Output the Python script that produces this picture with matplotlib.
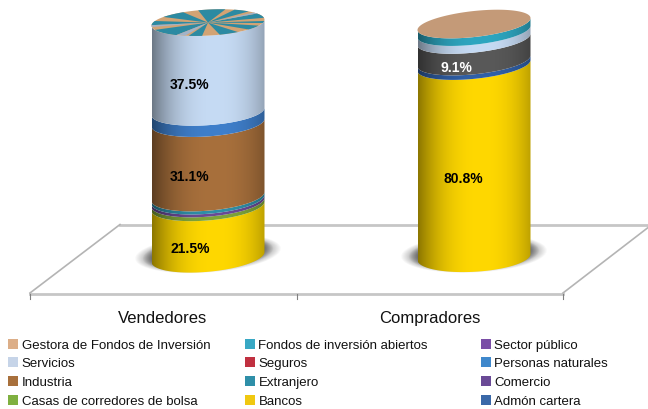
import numpy as np
import matplotlib
matplotlib.use('Agg')
import matplotlib.pyplot as plt
from matplotlib.colors import to_rgb
from matplotlib.patches import Polygon, Rectangle

plt.rcParams['font.family'] = ['Liberation Sans', 'DejaVu Sans']

categories = ['Vendedores', 'Compradores']

# bottom to top
vend_names = ['Bancos', 'Casas', 'Comercio', 'Extranjero', 'Industria', 'Personas', 'Servicios']
vend_values = [21.5, 1.6, 1.2, 1.3, 31.1, 4.7, 37.5]
comp_names = ['Bancos', 'Admon', 'Otros', 'Servicios', 'Fondos']
comp_values = [80.8, 1.9, 9.1, 3.3, 3.2]

colors = {
    'Bancos': '#ffd800', 'Casas': '#7fa63a', 'Comercio': '#6a4a96',
    'Extranjero': '#2f8fa8', 'Industria': '#a8703c', 'Personas': '#3f7fcb',
    'Servicios': '#c6dbf4', 'Admon': '#3060a8', 'Otros': '#595959',
    'Fondos': '#2ea6c0', 'Gestora': '#c49a78',
}

vend_labels = {'Servicios': '37.5%', 'Industria': '31.1%', 'Bancos': '21.5%'}
comp_labels = {'Otros': '9.1%', 'Bancos': '80.8%'}

legend_labels = [
    ['Gestora de Fondos de Inversión', 'Servicios', 'Industria', 'Casas de corredores de bolsa'],
    ['Fondos de inversión abiertos', 'Seguros', 'Extranjero', 'Bancos'],
    ['Sector público', 'Personas naturales', 'Comercio', 'Admón cartera'],
]
legend_colors = [
    ['#dcae88', '#c6d4e8', '#a8703c', '#7fb040'],
    ['#38a8c4', '#c03040', '#2f8fa8', '#f0c810'],
    ['#7a4ea6', '#3f88cc', '#6a4a96', '#3a68a8'],
]

# blades of the top face where the two last series overlap, degrees
pinwheel = [(8, 30), (44, 62), (72, 100), (116, 142), (160, 178), (200, 236),
            (250, 264), (282, 302), (316, 334), (345, 354)]
pinwheel_grey = [(178, 186), (236, 246), (30, 36)]

PX = 2.37       # pixels per percent point
SPAN = 266.0    # pixels between the two cylinders
A = 56.5 / SPAN
B_BOTTOM = 14.8 / PX
B_TOP = 13.0 / PX


def shade(color, n=120):
    u = np.linspace(0, 1, n)
    edge = np.clip(np.abs(u - 0.56) / 0.56, 0, 1)
    f = 1 - 0.45 * edge ** 2.4
    rgb = np.array(to_rgb(color))
    return (f[None, :, None] * rgb[None, None, :])


def ellipse_y(y0, tilt, t):
    # perspective: the tilt and the opening change along the height
    k = (tilt[0] + (tilt[1] - tilt[0]) * y0 / 100.0) / PX
    b = B_BOTTOM + (B_TOP - B_BOTTOM) * y0 / 100.0
    return y0 + k * np.cos(t) + b * np.sin(t)


def rim(cx, y0, tilt, n=60):
    t = np.linspace(np.pi, 2 * np.pi, n)
    return cx + A * np.cos(t), ellipse_y(y0, tilt, t)


def draw_cylinder(ax, cx, tilt, names, values, labels, label_colors, label_dx):
    bottoms = np.concatenate([[0], np.cumsum(values)])

    # soft shadow on the floor
    t = np.linspace(0, 2 * np.pi, 100)
    k = tilt[0] / PX
    for grow, alpha in zip(np.linspace(1.29, 1.0, 18), [0.025] * 8 + [0.06] * 10):
        ax.add_patch(Polygon(np.c_[cx + A * grow * np.cos(t),
                                   1.5 + k * np.cos(t) + B_BOTTOM * grow * np.sin(t)],
                             fc='black', ec='none', alpha=alpha, zorder=1))

    for name, v, y0 in zip(names, values, bottoms):
        xb, yb = rim(cx, y0, tilt)
        xt, yt = rim(cx, y0 + v, tilt)
        verts = np.r_[np.c_[xb, yb], np.c_[xt[::-1], yt[::-1]]]
        poly = Polygon(verts, fc='none', ec='none', zorder=2)
        ax.add_patch(poly)
        im = ax.imshow(shade(colors[name]), extent=(cx - A, cx + A, y0 - 12, y0 + v + 12),
                       aspect='auto', zorder=2, interpolation='bilinear')
        im.set_clip_path(poly)
        if name in labels:
            ax.text(cx + label_dx[name] / SPAN, y0 + v / 2 - 7.0, labels[name], ha='center', va='center',
                    fontsize=10, fontweight='bold', color=label_colors.get(name, 'black'), zorder=5)
    return bottoms[-1]


def top_face(ax, cx, y0, tilt, blades=None, grey=None):
    t = np.radians(np.linspace(0, 360, 200))
    base = colors['Gestora'] if blades is None else '#d2a374'
    ax.add_patch(Polygon(np.c_[cx + A * np.cos(t), ellipse_y(y0, tilt, t)],
                         fc=base, ec='none', zorder=3))
    for group, c in [(blades, '#2c8aa2'), (grey, '#a3b3c8')]:
        for a0, a1 in group or []:
            t = np.radians(np.linspace(a0, a1, 12))
            x = np.r_[cx, cx + A * np.cos(t)]
            y = np.r_[y0, ellipse_y(y0, tilt, t)]
            ax.add_patch(Polygon(np.c_[x, y], fc=c, ec='none', zorder=4))


fig = plt.figure(figsize=(6.48, 4.10), dpi=100)

# floor and legend, in picture pixels
bg = fig.add_axes([0, 0, 1, 1])
bg.set_xlim(0, 648)
bg.set_ylim(410, 0)
bg.axis('off')
floor_c = '#c6c6c6'
bg.plot([30, 563], [294.5, 294.5], color=floor_c, lw=2.0, zorder=1)
bg.plot([120, 652], [225.5, 225.5], color=floor_c, lw=2.0, zorder=1)
bg.plot([30, 120], [294, 225.5], color='#b4b4b4', lw=1.2, zorder=1)
bg.plot([563, 652], [294, 225.5], color='#b4b4b4', lw=1.2, zorder=1)
for x in [30, 297, 563]:
    bg.plot([x, x], [295, 300], color='#808080', lw=0.8, zorder=1)

legend_x = [8, 245, 481]
legend_y = [346, 364, 383, 402]
for x, col_labels, col_colors in zip(legend_x, legend_labels, legend_colors):
    for y, label, c in zip(legend_y, col_labels, col_colors):
        bg.add_patch(Rectangle((x, y - 6), 10, 10, fc=c, ec='none'))
        bg.text(x + 13.5, y, label, ha='left', va='center', fontsize=9.5, color='#111111')

for x, cat in zip([163, 430], categories):
    bg.text(x, 319, cat, ha='center', va='center', fontsize=12, color='#111111')

# the cylinders, x in category positions and y in percent
ax = fig.add_axes([0, 0, 1, 1])
ax.patch.set_alpha(0)
ax.axis('off')

tilt_left = (5.0, 3.0)
tilt_right = (3.0, 6.0)
left = draw_cylinder(ax, 0, tilt_left, vend_names, vend_values, vend_labels, {},
                     {'Servicios': -18, 'Industria': -18, 'Bancos': -18})
right = draw_cylinder(ax, 1, tilt_right, comp_names, comp_values, comp_labels, {'Otros': 'white'},
                      {'Otros': -18, 'Bancos': -11})
top_face(ax, 0, left, tilt_left, pinwheel, pinwheel_grey)
top_face(ax, 1, right, tilt_right)

ax.set_xlim(-208 / SPAN, (648 - 208) / SPAN)
ax.set_ylim(-(410 - 258.0) / PX, 258.0 / PX)

fig.savefig('out.png', dpi=100)
